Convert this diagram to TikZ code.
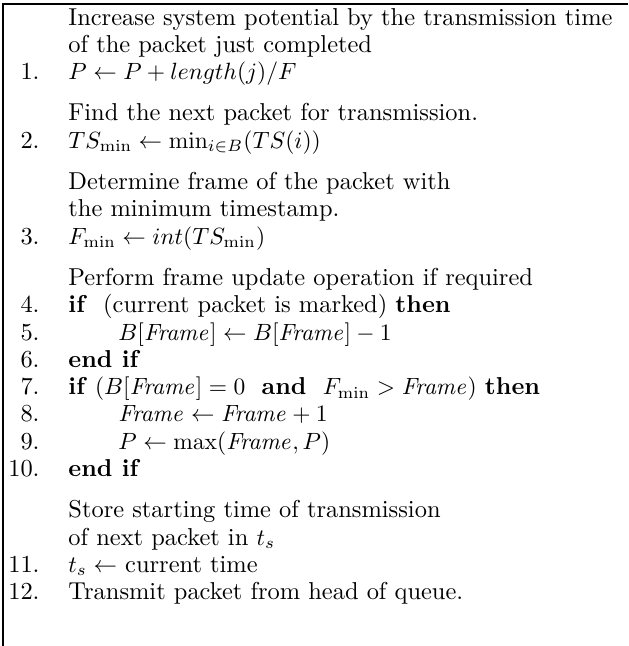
\documentclass[tikz,border=0pt]{standalone}
\usepackage{tikz}
\usetikzlibrary{positioning}
\tikzset{frame/.style = {line width=0.6pt}}

\begin{document}
\begin{tikzpicture}[x=0.4255pt,y=-0.4255pt,
    font=\fontsize{10.4}{12}\selectfont,
    num/.style={anchor=base east,inner sep=0pt},
    txt/.style={anchor=base west,inner sep=0pt}]
            \useasboundingbox (0,0) rectangle (628,646);
            \draw[frame] (628,4) -- (3,4) -- (3,646);

            % comment lines and steps
            \node[txt] (c1a) at (68,25) {Increase system potential by the transmission time};
            \node[txt] (c1b) at (68,52.3) {of the packet just completed};
            \node[num] (n1) at (40,79.6) {1.};
            \node[txt] (s1) at (68,79.6) {$P \leftarrow P + length(j)/F$};

            \node[txt] (c2) at (68,120.9) {Find the next packet for transmission.};
            \node[num] (n2) at (40,148.2) {2.};
            \node[txt] (s2) at (68,148.2) {$TS_{\min} \leftarrow \min_{i\in B}(TS(i))$};

            \node[txt] (c3a) at (68,189.5) {Determine frame of the packet with};
            \node[txt] (c3b) at (68,216.8) {the minimum timestamp.};
            \node[num] (n3) at (40,244.1) {3.};
            \node[txt] (s3) at (68,244.1) {$F_{\min} \leftarrow int(TS_{\min})$};

            \node[txt] (c4) at (68,285.4) {Perform frame update operation if required};
            \node[num] (n4) at (40,312.7) {4.};
            \node[txt] (s4) at (68,312.7) {\textbf{if}\ \ (current packet is marked) \textbf{then}};
            \node[num] (n5) at (40,340) {5.};
            \node[txt] (s5) at (118,340) {$B[\mathit{Frame}] \leftarrow B[\mathit{Frame}] - 1$};
            \node[num] (n6) at (40,367.3) {6.};
            \node[txt] (s6) at (68,367.3) {\textbf{end if}};
            \node[num] (n7) at (40,394.6) {7.};
            \node[txt] (s7) at (68,394.6) {\textbf{if} $(B[\mathit{Frame}] = 0$\ \ \textbf{and}\ \ $F_{\min} > \mathit{Frame})$ \textbf{then}};
            \node[num] (n8) at (40,421.9) {8.};
            \node[txt] (s8) at (118,421.9) {$\mathit{Frame} \leftarrow \mathit{Frame} + 1$};
            \node[num] (n9) at (40,449.2) {9.};
            \node[txt] (s9) at (118,449.2) {$P \leftarrow \max(\mathit{Frame}, P)$};
            \node[num] (n10) at (40,476.5) {10.};
            \node[txt] (s10) at (68,476.5) {\textbf{end if}};

            \node[txt] (c5a) at (68,517.8) {Store starting time of transmission};
            \node[txt] (c5b) at (68,545.1) {of next packet in $t_s$};
            \node[num] (n11) at (40,572.4) {11.};
            \node[txt] (s11) at (68,572.4) {$t_s \leftarrow$ current time};
            \node[num] (n12) at (40,599.7) {12.};
            \node[txt] (s12) at (68,599.7) {Transmit packet from head of queue.};
        \end{tikzpicture}
\end{document}
